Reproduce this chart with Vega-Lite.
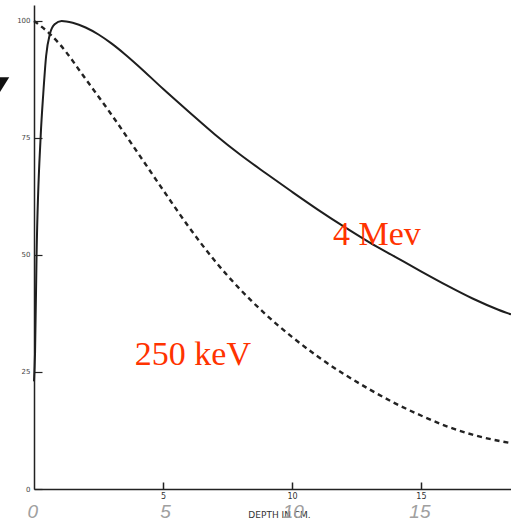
{
  "$schema": "https://vega.github.io/schema/vega-lite/v6.json",
  "width": 477,
  "height": 484,
  "autosize": {"type": "none"},
  "padding": {"left": 34, "top": 5, "right": 0, "bottom": 33},
  "background": "white",
  "config": {"view": {"stroke": null}},
  "datasets": {
    "curves": [
      {"depth": 0, "dose": 23, "beam": "4 MeV"},
      {"depth": 0.04, "dose": 29, "beam": "4 MeV"},
      {"depth": 0.1, "dose": 50, "beam": "4 MeV"},
      {"depth": 0.26, "dose": 75.5, "beam": "4 MeV"},
      {"depth": 0.36, "dose": 84.5, "beam": "4 MeV"},
      {"depth": 0.47, "dose": 92.5, "beam": "4 MeV"},
      {"depth": 0.62, "dose": 97.3, "beam": "4 MeV"},
      {"depth": 0.8, "dose": 99.3, "beam": "4 MeV"},
      {"depth": 1.07, "dose": 100, "beam": "4 MeV"},
      {"depth": 1.5, "dose": 99.6, "beam": "4 MeV"},
      {"depth": 2, "dose": 98.6, "beam": "4 MeV"},
      {"depth": 2.5, "dose": 97.1, "beam": "4 MeV"},
      {"depth": 3, "dose": 95.2, "beam": "4 MeV"},
      {"depth": 3.5, "dose": 93.0, "beam": "4 MeV"},
      {"depth": 4, "dose": 90.6, "beam": "4 MeV"},
      {"depth": 5, "dose": 85.5, "beam": "4 MeV"},
      {"depth": 6, "dose": 80.6, "beam": "4 MeV"},
      {"depth": 7, "dose": 75.8, "beam": "4 MeV"},
      {"depth": 8, "dose": 71.4, "beam": "4 MeV"},
      {"depth": 9, "dose": 67.4, "beam": "4 MeV"},
      {"depth": 10, "dose": 63.5, "beam": "4 MeV"},
      {"depth": 11, "dose": 59.7, "beam": "4 MeV"},
      {"depth": 12, "dose": 56.1, "beam": "4 MeV"},
      {"depth": 13, "dose": 52.7, "beam": "4 MeV"},
      {"depth": 14, "dose": 49.6, "beam": "4 MeV"},
      {"depth": 15, "dose": 46.5, "beam": "4 MeV"},
      {"depth": 16, "dose": 43.5, "beam": "4 MeV"},
      {"depth": 17, "dose": 40.7, "beam": "4 MeV"},
      {"depth": 18, "dose": 38.3, "beam": "4 MeV"},
      {"depth": 18.49, "dose": 37.3, "beam": "4 MeV"},
      {"depth": 0, "dose": 100, "beam": "250 keV"},
      {"depth": 0.62, "dose": 97.2, "beam": "250 keV"},
      {"depth": 1, "dose": 95, "beam": "250 keV"},
      {"depth": 2, "dose": 87.6, "beam": "250 keV"},
      {"depth": 3, "dose": 80, "beam": "250 keV"},
      {"depth": 4, "dose": 72, "beam": "250 keV"},
      {"depth": 5, "dose": 63.9, "beam": "250 keV"},
      {"depth": 6, "dose": 56, "beam": "250 keV"},
      {"depth": 7, "dose": 48.8, "beam": "250 keV"},
      {"depth": 8, "dose": 42.6, "beam": "250 keV"},
      {"depth": 9, "dose": 37.2, "beam": "250 keV"},
      {"depth": 10, "dose": 32.5, "beam": "250 keV"},
      {"depth": 11, "dose": 28.3, "beam": "250 keV"},
      {"depth": 12, "dose": 24.6, "beam": "250 keV"},
      {"depth": 13, "dose": 21.3, "beam": "250 keV"},
      {"depth": 14, "dose": 18.3, "beam": "250 keV"},
      {"depth": 15, "dose": 15.7, "beam": "250 keV"},
      {"depth": 16, "dose": 13.4, "beam": "250 keV"},
      {"depth": 17, "dose": 11.6, "beam": "250 keV"},
      {"depth": 18, "dose": 10.3, "beam": "250 keV"},
      {"depth": 18.49, "dose": 9.8, "beam": "250 keV"}
    ],
    "labels": [
      {"depth": 11.59, "dose": 52.1, "text": "4 Mev"},
      {"depth": 3.91, "dose": 26.5, "text": "250 keV"}
    ],
    "hand": [
      {"depth": -0.05, "dose": -4.9, "text": "0"},
      {"depth": 5.1, "dose": -4.9, "text": "5"},
      {"depth": 10.05, "dose": -4.9, "text": "10"},
      {"depth": 14.96, "dose": -4.9, "text": "15"}
    ],
    "arrow": [
      {"depth": -1.14, "dose": 86.4}
    ]
  },
  "layer": [
    {
      "data": {"name": "curves"},
      "mark": {"type": "line", "interpolate": "monotone", "color": "#1e1e1e", "strokeWidth": 2},
      "transform": [{"filter": "datum.beam === '4 MeV'"}],
      "encoding": {
        "x": {
          "field": "depth", "type": "quantitative",
          "scale": {"domain": [0, 18.49], "nice": false, "zero": false},
          "axis": {
            "values": [5, 10, 15], "grid": false, "domainColor": "#222", "domainWidth": 1.5,
            "tickColor": "#222", "tickSize": -7, "tickWidth": 1.5, "labelPadding": 10,
            "labelFontSize": 8, "labelColor": "#333", "labelFont": "DejaVu Sans",
            "title": "DEPTH IN CM.", "titleFontSize": 9, "titleFontWeight": "normal",
            "titleColor": "#333", "titleFont": "DejaVu Sans", "titlePadding": 10,
            "titleX": 245, "titleAlign": "center"
          }
        },
        "y": {
          "field": "dose", "type": "quantitative",
          "scale": {"domain": [0, 103.4], "nice": false},
          "axis": {
            "values": [0, 25, 50, 75, 100], "grid": false, "domainColor": "#222", "domainWidth": 1.5,
            "tickColor": "#222", "tickSize": -8, "tickWidth": 1.2, "labelPadding": 12,
            "labelFontSize": 7, "labelColor": "#444", "labelFont": "DejaVu Sans", "title": null
          }
        }
      }
    },
    {
      "data": {"name": "curves"},
      "mark": {"type": "line", "interpolate": "monotone", "color": "#222", "strokeWidth": 2.4, "strokeDash": [5, 4]},
      "transform": [{"filter": "datum.beam === '250 keV'"}],
      "encoding": {
        "x": {"field": "depth", "type": "quantitative"},
        "y": {"field": "dose", "type": "quantitative"}
      }
    },
    {
      "data": {"name": "labels"},
      "mark": {"type": "text", "align": "left", "baseline": "alphabetic", "font": "Liberation Serif", "fontSize": 34, "color": "#ff3300"},
      "encoding": {
        "x": {"field": "depth", "type": "quantitative"},
        "y": {"field": "dose", "type": "quantitative"},
        "text": {"field": "text"}
      }
    },
    {
      "data": {"name": "hand"},
      "mark": {"type": "text", "align": "center", "baseline": "middle", "font": "Liberation Sans", "fontStyle": "italic", "fontSize": 19, "color": "#a0a0a0"},
      "encoding": {
        "x": {"field": "depth", "type": "quantitative"},
        "y": {"field": "dose", "type": "quantitative"},
        "text": {"field": "text"}
      }
    },
    {
      "data": {"name": "arrow"},
      "mark": {"type": "point", "filled": true, "color": "#111", "opacity": 1, "size": 86, "shape": "M -1 -1.6 L 1 -1.6 L -1 1.6 Z"},
      "encoding": {
        "x": {"field": "depth", "type": "quantitative"},
        "y": {"field": "dose", "type": "quantitative"}
      }
    }
  ]
}
